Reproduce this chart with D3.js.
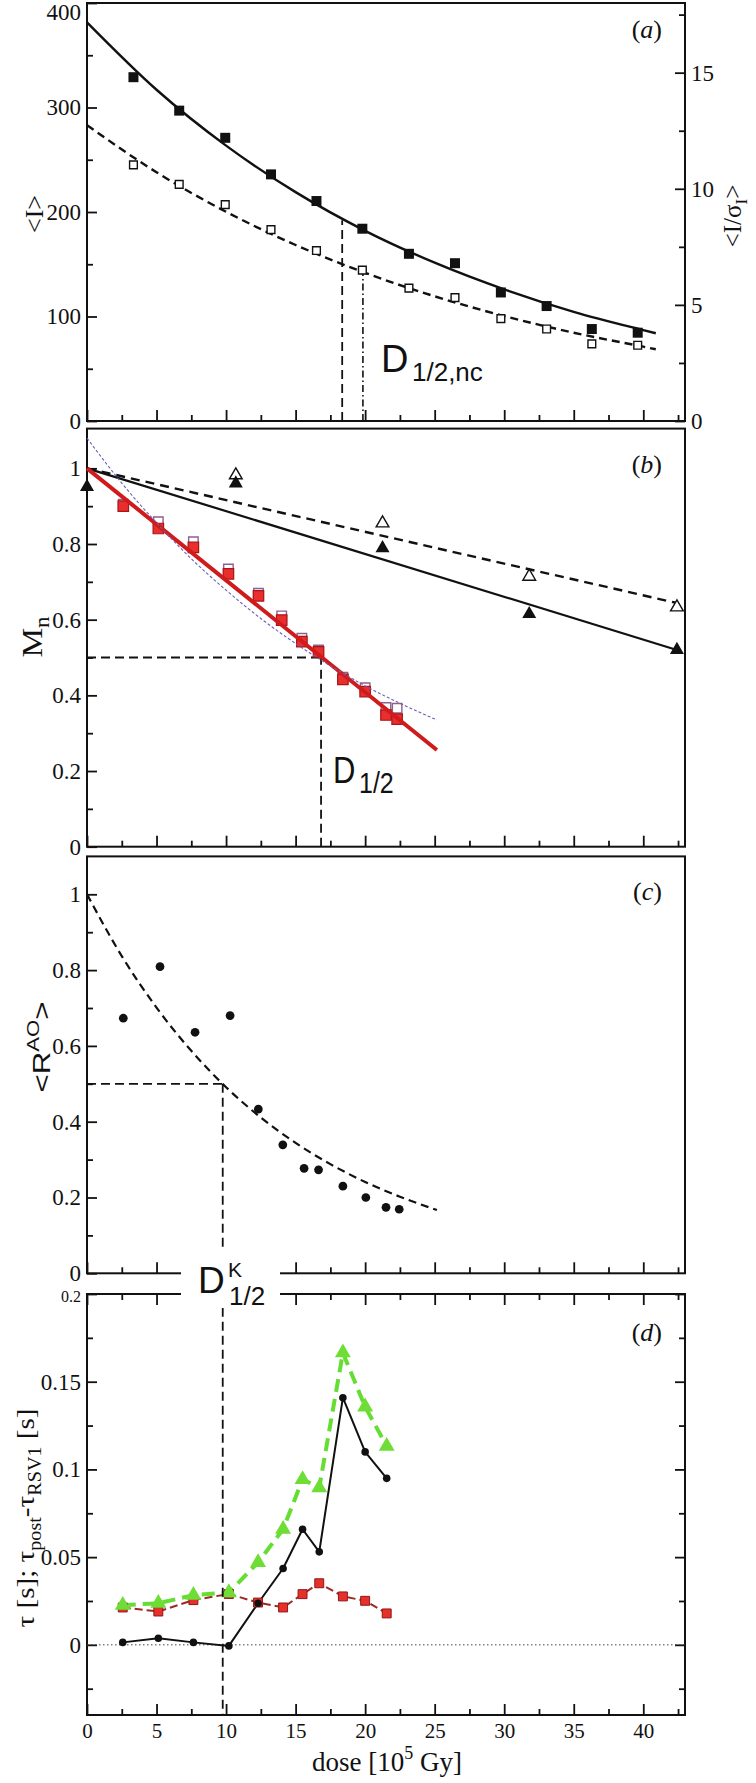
<!DOCTYPE html>
<html><head><meta charset="utf-8">
<script src="https://cdn.jsdelivr.net/npm/d3@7"></script>
<style>
body{margin:0;background:#fff}
svg{display:block}
text{font-family:"Liberation Serif","Times New Roman",serif;fill:#111}
.sans{font-family:"Liberation Sans",Arial,sans-serif}
</style></head><body>
<svg id="c" width="756" height="1783"></svg>
<script>
// ---------------- data ----------------
const xDomain = [0, 43];
const xMajor = [0, 5, 10, 15, 20, 25, 30, 35, 40];
const xMinor = [2.5, 7.5, 12.5, 17.5, 22.5, 27.5, 32.5, 37.5, 42.5];
const xLabels = ["0", "5", "10", "15", "20", "25", "30", "35", "40"];

// panel (a)
const doseA = [3.34, 6.63, 9.94, 13.23, 16.5, 19.8, 23.15, 26.46, 29.76, 33.05, 36.3, 39.6];
const intensityFilled = [329, 297, 271, 236, 210.5, 184, 160, 151, 123, 110, 88, 84.5];
const iSigmaOpen = [11.03, 10.19, 9.32, 8.24, 7.34, 6.50, 5.72, 5.31, 4.41, 3.96, 3.32, 3.26];
const fitDoseA = [0, 5, 10, 15, 20, 25, 30, 35, 40, 40.9];
const fitIntensity = [381.5, 317, 263.5, 219, 182, 151.5, 126, 104.5, 87, 84];
const fitISigma = [12.74, 10.71, 9.01, 7.58, 6.38, 5.37, 4.52, 3.80, 3.20, 3.09];
const d12A = 18.35, d12LevelA = 192;
const d12ncA = 19.84, d12ncLevelA = 6.41;
const ticksAL = [0, 100, 200, 300, 400], minorAL = [50, 150, 250, 350];
const ticksAR = [0, 5, 10, 15], minorAR = [2.5, 7.5, 12.5, 17.5];

// panel (b)
const doseB = [2.61, 5.13, 7.65, 10.17, 12.33, 14.0, 15.45, 16.65, 18.4, 20.0, 21.5, 22.3];
const mnRed = [0.900, 0.841, 0.791, 0.721, 0.663, 0.599, 0.542, 0.515, 0.442, 0.410, 0.348, 0.337];
const mnOpenSq = [0.905, 0.859, 0.806, 0.734, 0.670, 0.610, 0.551, 0.520, 0.448, 0.420, 0.368, 0.366];
const redFitDose = [0, 25.16], redFitMn = [1.0, 0.2555];
const purpleDose = [0, 2.5, 5, 7.5, 10, 12.5, 15, 17.5, 20, 22.5, 25.16];
const purpleMn = [1.08, 0.961, 0.856, 0.761, 0.678, 0.603, 0.537, 0.478, 0.425, 0.379, 0.335];
const doseTri = [0, 10.7, 21.25, 31.8, 42.42];
const triFilled = [0.951, 0.960, 0.789, 0.615, 0.520];
const triOpen = [null, 0.982, 0.855, 0.714, 0.633];
const solidFitDose = [0, 42.42], solidFitMn = [1.0, 0.52];
const dashFitDose = [0, 42.42], dashFitMn = [1.0, 0.644];
const d12B = 16.83;
const ticksB = [0, 0.2, 0.4, 0.6, 0.8, 1], minorB = [0.1, 0.3, 0.5, 0.7, 0.9];

// panel (c)
const doseC = [2.61, 5.25, 7.77, 10.29, 12.32, 14.08, 15.61, 16.65, 18.4, 20.05, 21.5, 22.45];
const rao = [0.673, 0.809, 0.636, 0.680, 0.433, 0.339, 0.277, 0.273, 0.230, 0.200, 0.174, 0.169];
const raoFitDose = [0, 2.5, 5, 7.5, 10, 12.5, 15, 17.5, 20, 22.5, 25.16];
const raoFit = [1.0, 0.837, 0.701, 0.587, 0.491, 0.411, 0.344, 0.288, 0.241, 0.202, 0.167];
const dK12 = 9.76;

// panel (d)
const doseD = [2.57, 5.13, 7.65, 10.2, 12.3, 14.1, 15.5, 16.7, 18.4, 20.0, 21.55];
const tauBlack = [0.0014, 0.0038, 0.0014, -0.0006, 0.0237, 0.0435, 0.0659, 0.053, 0.1409, 0.110, 0.0949];
const tauGreen = [0.0226, 0.0237, 0.0283, 0.0298, 0.047, 0.0659, 0.0943, 0.0896, 0.1665, 0.1357, 0.1133];
const tauRed = [0.0213, 0.019, 0.0255, 0.029, 0.0241, 0.0213, 0.0289, 0.0351, 0.0276, 0.0251, 0.0179];
const ticksD = [0, 0.05, 0.1, 0.15, 0.2], minorD = [-0.025, 0.025, 0.075, 0.125, 0.175];
const ticksDLabels = ["0", "0.05", "0.1", "0.15", "0.2"];

// ---------------- drawing ----------------
const svg = d3.select("#c");
const X0 = 87, X1 = 685;
const x = d3.scaleLinear().domain(xDomain).range([X0, X1]);

const panels = {
  a: {top: 3, bot: 421},
  b: {top: 428.6, bot: 846.7},
  c: {top: 856.4, bot: 1273.3},
  d: {top: 1294, bot: 1715}
};
const yA = d3.scaleLinear().domain([0, 400]).range([panels.a.bot, panels.a.top]);
const yAR = d3.scaleLinear().domain([0, 18]).range([panels.a.bot, panels.a.top]);
const yB = d3.scaleLinear().domain([0, 1.105]).range([panels.b.bot, panels.b.top]);
const yC = d3.scaleLinear().domain([0, 1.1]).range([panels.c.bot, panels.c.top]);
const yD = d3.scaleLinear().domain([-0.04, 0.2]).range([panels.d.bot, panels.d.top]);

const zip = (a, b) => a.map((v, i) => [v, b[i]]).filter(d => d[1] != null);

function styleAxis(g, fs) {
  g.select(".domain").remove();
  g.selectAll(".tick line").attr("stroke", "#111").attr("stroke-width", 1.8);
  g.selectAll(".tick text").attr("font-size", fs).attr("fill", "#111")
    .attr("font-family", '"Liberation Serif","Times New Roman",serif');
}
function leftAxis(scale, majors, minors, fmt) {
  const g1 = svg.append("g").attr("transform", `translate(${X0},0)`)
    .call(d3.axisLeft(scale).tickValues(majors).tickSize(-10).tickPadding(6).tickFormat(fmt));
  styleAxis(g1, 23);
  const g2 = svg.append("g").attr("transform", `translate(${X0},0)`)
    .call(d3.axisLeft(scale).tickValues(minors).tickSize(-6).tickFormat(""));
  styleAxis(g2, 0);
  return g1;
}
function rightAxis(scale, majors, minors, fmt) {
  const g1 = svg.append("g").attr("transform", `translate(${X1},0)`)
    .call(d3.axisRight(scale).tickValues(majors).tickSize(-10).tickPadding(6).tickFormat(fmt));
  styleAxis(g1, 23);
  const g2 = svg.append("g").attr("transform", `translate(${X1},0)`)
    .call(d3.axisRight(scale).tickValues(minors).tickSize(-6).tickFormat(""));
  styleAxis(g2, 0);
  return g1;
}
function bottomAxis(yPos, labels) {
  const g1 = svg.append("g").attr("transform", `translate(0,${yPos})`)
    .call(d3.axisBottom(x).tickValues(xMajor).tickSize(-11).tickPadding(8)
      .tickFormat((d, i) => labels ? labels[i] : ""));
  styleAxis(g1, 21);
  const g2 = svg.append("g").attr("transform", `translate(0,${yPos})`)
    .call(d3.axisBottom(x).tickValues(xMinor).tickSize(-6).tickFormat(""));
  styleAxis(g2, 0);
}
function topAxis(yPos) {
  const g1 = svg.append("g").attr("transform", `translate(0,${yPos})`)
    .call(d3.axisTop(x).tickValues(xMajor).tickSize(-11).tickFormat(""));
  styleAxis(g1, 0);
  const g2 = svg.append("g").attr("transform", `translate(0,${yPos})`)
    .call(d3.axisTop(x).tickValues(xMinor).tickSize(-6).tickFormat(""));
  styleAxis(g2, 0);
}
function frame(p) {
  svg.append("rect").attr("x", X0).attr("y", p.top).attr("width", X1 - X0)
    .attr("height", p.bot - p.top).attr("fill", "none").attr("stroke", "#111").attr("stroke-width", 2);
}
function path(data, ys, opts) {
  const line = d3.line().x(d => x(d[0])).y(d => ys(d[1]));
  if (opts.curve) line.curve(opts.curve);
  svg.append("path").attr("d", line(data)).attr("fill", "none")
    .attr("stroke", opts.color || "#111").attr("stroke-width", opts.width || 2)
    .attr("stroke-dasharray", opts.dash || null).attr("stroke-linejoin", "round");
}
function symbols(data, ys, type, size, fill, stroke, sw) {
  svg.append("g").selectAll("path").data(data).join("path")
    .attr("transform", d => `translate(${x(d[0])},${ys(d[1])})`)
    .attr("d", d3.symbol().type(type).size(size))
    .attr("fill", fill).attr("stroke", stroke || "none").attr("stroke-width", sw || 0);
}
function panelTag(letter, yb) {
  const t = svg.append("text").attr("x", 662).attr("y", yb).attr("text-anchor", "end").attr("font-size", 26);
  t.append("tspan").text("(");
  t.append("tspan").attr("font-style", "italic").text(letter);
  t.append("tspan").text(")");
}

// ===== Panel (a) =====
frame(panels.a);
const axAL = leftAxis(yA, ticksAL, minorAL, d => String(d));
axAL.selectAll(".tick text").filter(d => d === 400).attr("dy", "0.72em");
rightAxis(yAR, ticksAR, minorAR, d => String(d));
bottomAxis(panels.a.bot, null);
path(zip(fitDoseA, fitIntensity), yA, {width: 2.4, curve: d3.curveMonotoneX});
path(zip(fitDoseA, fitISigma), yAR, {width: 2.4, dash: "8,5", curve: d3.curveMonotoneX});
path([[d12A, 0], [d12A, d12LevelA]], yA, {width: 1.8, dash: "9,5"});
path([[d12ncA, 0], [d12ncA, d12ncLevelA]], yAR, {width: 1.6, dash: "7,3,1.5,3"});
symbols(zip(doseA, intensityFilled), yA, d3.symbolSquare, 100, "#111");
symbols(zip(doseA, iSigmaOpen), yAR, d3.symbolSquare, 60, "#fff", "#111", 1.4);
panelTag("a", 38);
// D_1/2,nc
svg.append("text").attr("class", "sans").attr("x", 381).attr("y", 371.5).attr("font-size", 38).text("D");
svg.append("text").attr("class", "sans").attr("x", 412).attr("y", 380.5).attr("font-size", 26).text("1/2,nc");
// titles
svg.append("text").attr("transform", "translate(43,214) rotate(-90)").attr("text-anchor", "middle")
  .attr("font-size", 26).text("<I>");
{
  const t = svg.append("text").attr("transform", "translate(741,216) rotate(-90)").attr("text-anchor", "middle").attr("font-size", 25);
  t.append("tspan").text("<I/σ");
  t.append("tspan").attr("font-size", 17).attr("dy", 6).text("I");
  t.append("tspan").attr("dy", -6).text(">");
}

// ===== Panel (b) =====
frame(panels.b);
leftAxis(yB, ticksB, minorB, d => String(d));
bottomAxis(panels.b.bot, null);
path(zip(dashFitDose, dashFitMn), yB, {width: 2.4, dash: "9,6"});
path(zip(solidFitDose, solidFitMn), yB, {width: 2.2});
path([[0, 0.5], [d12B, 0.5]], yB, {width: 1.8, dash: "9,5"});
path([[d12B, 0], [d12B, 0.5]], yB, {width: 1.8, dash: "9,5"});
symbols(zip(doseB, mnOpenSq), yB, d3.symbolSquare, 90, "#fff", "#8f5f8f", 1.4);
symbols(zip(doseB, mnRed), yB, d3.symbolSquare, 110, "#ea2e2e", "#a81616", 1.2);
path(zip(redFitDose, redFitMn), yB, {width: 4, color: "#cf1b1b"});
path(zip(purpleDose, purpleMn), yB, {width: 1.1, color: "#6f5fae", dash: "3,2", curve: d3.curveMonotoneX});
symbols(zip(doseTri, triOpen), yB, d3.symbolTriangle, 70, "#fff", "#111", 1.4);
symbols(zip(doseTri, triFilled), yB, d3.symbolTriangle, 85, "#111");
panelTag("b", 473);
svg.append("g").attr("transform", "translate(333,783) scale(1,1.2)").call(g => {
  g.append("text").attr("class", "sans").attr("x", 0).attr("y", 0).attr("font-size", 31).text("D");
  g.append("text").attr("class", "sans").attr("x", 26).attr("y", 8.5).attr("font-size", 25).text("1/2");
});
{
  const t = svg.append("text").attr("transform", "translate(42,637) rotate(-90) scale(1.15,1)")
    .attr("text-anchor", "middle").attr("font-size", 29);
  t.append("tspan").text("M");
  t.append("tspan").attr("font-size", 20).attr("dy", 7).text("n");
}

// ===== Panel (c) =====
frame(panels.c);
leftAxis(yC, ticksB, minorB, d => String(d));
bottomAxis(panels.c.bot, null);
path(zip(raoFitDose, raoFit), yC, {width: 2.2, dash: "8,5", curve: d3.curveMonotoneX});
path([[0, 0.5], [dK12, 0.5]], yC, {width: 1.8, dash: "9,5"});
symbols(zip(doseC, rao), yC, d3.symbolCircle, 60, "#111");
panelTag("c", 900);
{
  const t = svg.append("text").attr("class", "sans").attr("transform", "translate(50,1047) rotate(-90) scale(1.3,1)")
    .attr("text-anchor", "middle").attr("font-size", 24);
  t.append("tspan").text("<R");
  t.append("tspan").attr("font-size", 17).attr("dy", -11).text("AO");
  t.append("tspan").attr("dy", 11).text(">");
}

// ===== Panel (d) =====
frame(panels.d);
const axDL = leftAxis(yD, ticksD, minorD, (d, i) => ticksDLabels[i]);
axDL.selectAll(".tick text").filter(d => d === 0.2).attr("font-size", 16).attr("dy", "0.45em");
rightAxis(yD, ticksD, minorD, () => "");
bottomAxis(panels.d.bot, xLabels);
topAxis(panels.d.top);
path([[0, 0], [43, 0]], yD, {width: 1, color: "#444", dash: "1.5,2.5"});
path(zip(doseD, tauRed), yD, {width: 2, color: "#9c2a24", dash: "8,4"});
path(zip(doseD, tauGreen), yD, {width: 4, color: "#66dd33", dash: "13,7"});
path(zip(doseD, tauBlack), yD, {width: 2});
symbols(zip(doseD, tauRed), yD, d3.symbolSquare, 80, "#e8302a", "#8b1a1a", 1);
symbols(zip(doseD, tauGreen), yD, d3.symbolTriangle, 110, "#6edd36");
symbols(zip(doseD, tauBlack), yD, d3.symbolCircle, 45, "#111");
panelTag("d", 1341);
{
  const t = svg.append("text").attr("transform", "translate(34,1518) rotate(-90) scale(1.12,1)")
    .attr("text-anchor", "middle").attr("font-size", 26);
  t.append("tspan").text("τ [s];  τ");
  t.append("tspan").attr("font-size", 18).attr("dy", 7).text("post");
  t.append("tspan").attr("dy", -7).text("-τ");
  t.append("tspan").attr("font-size", 18).attr("dy", 7).text("RSV1");
  t.append("tspan").attr("dy", -7).text(" [s]");
}
{
  const t = svg.append("text").attr("x", 387).attr("y", 1771).attr("text-anchor", "middle").attr("font-size", 27);
  t.append("tspan").text("dose [10");
  t.append("tspan").attr("font-size", 18).attr("dy", -12).text("5");
  t.append("tspan").attr("dy", 12).text(" Gy]");
}

// D^K_1/2 vertical line across panels c and d, then break label
svg.append("line").attr("x1", x(dK12)).attr("x2", x(dK12)).attr("y1", yC(0.5)).attr("y2", panels.d.bot)
  .attr("stroke", "#111").attr("stroke-width", 1.8).attr("stroke-dasharray", "9,5");
svg.append("rect").attr("x", 181).attr("y", 1250).attr("width", 99).attr("height", 58).attr("fill", "#fff");
svg.append("text").attr("class", "sans").attr("x", 198).attr("y", 1293).attr("font-size", 37).text("D");
svg.append("text").attr("class", "sans").attr("x", 228).attr("y", 1277).attr("font-size", 21).text("K");
svg.append("text").attr("class", "sans").attr("x", 229).attr("y", 1305).attr("font-size", 26).text("1/2");
</script>
</body></html>
